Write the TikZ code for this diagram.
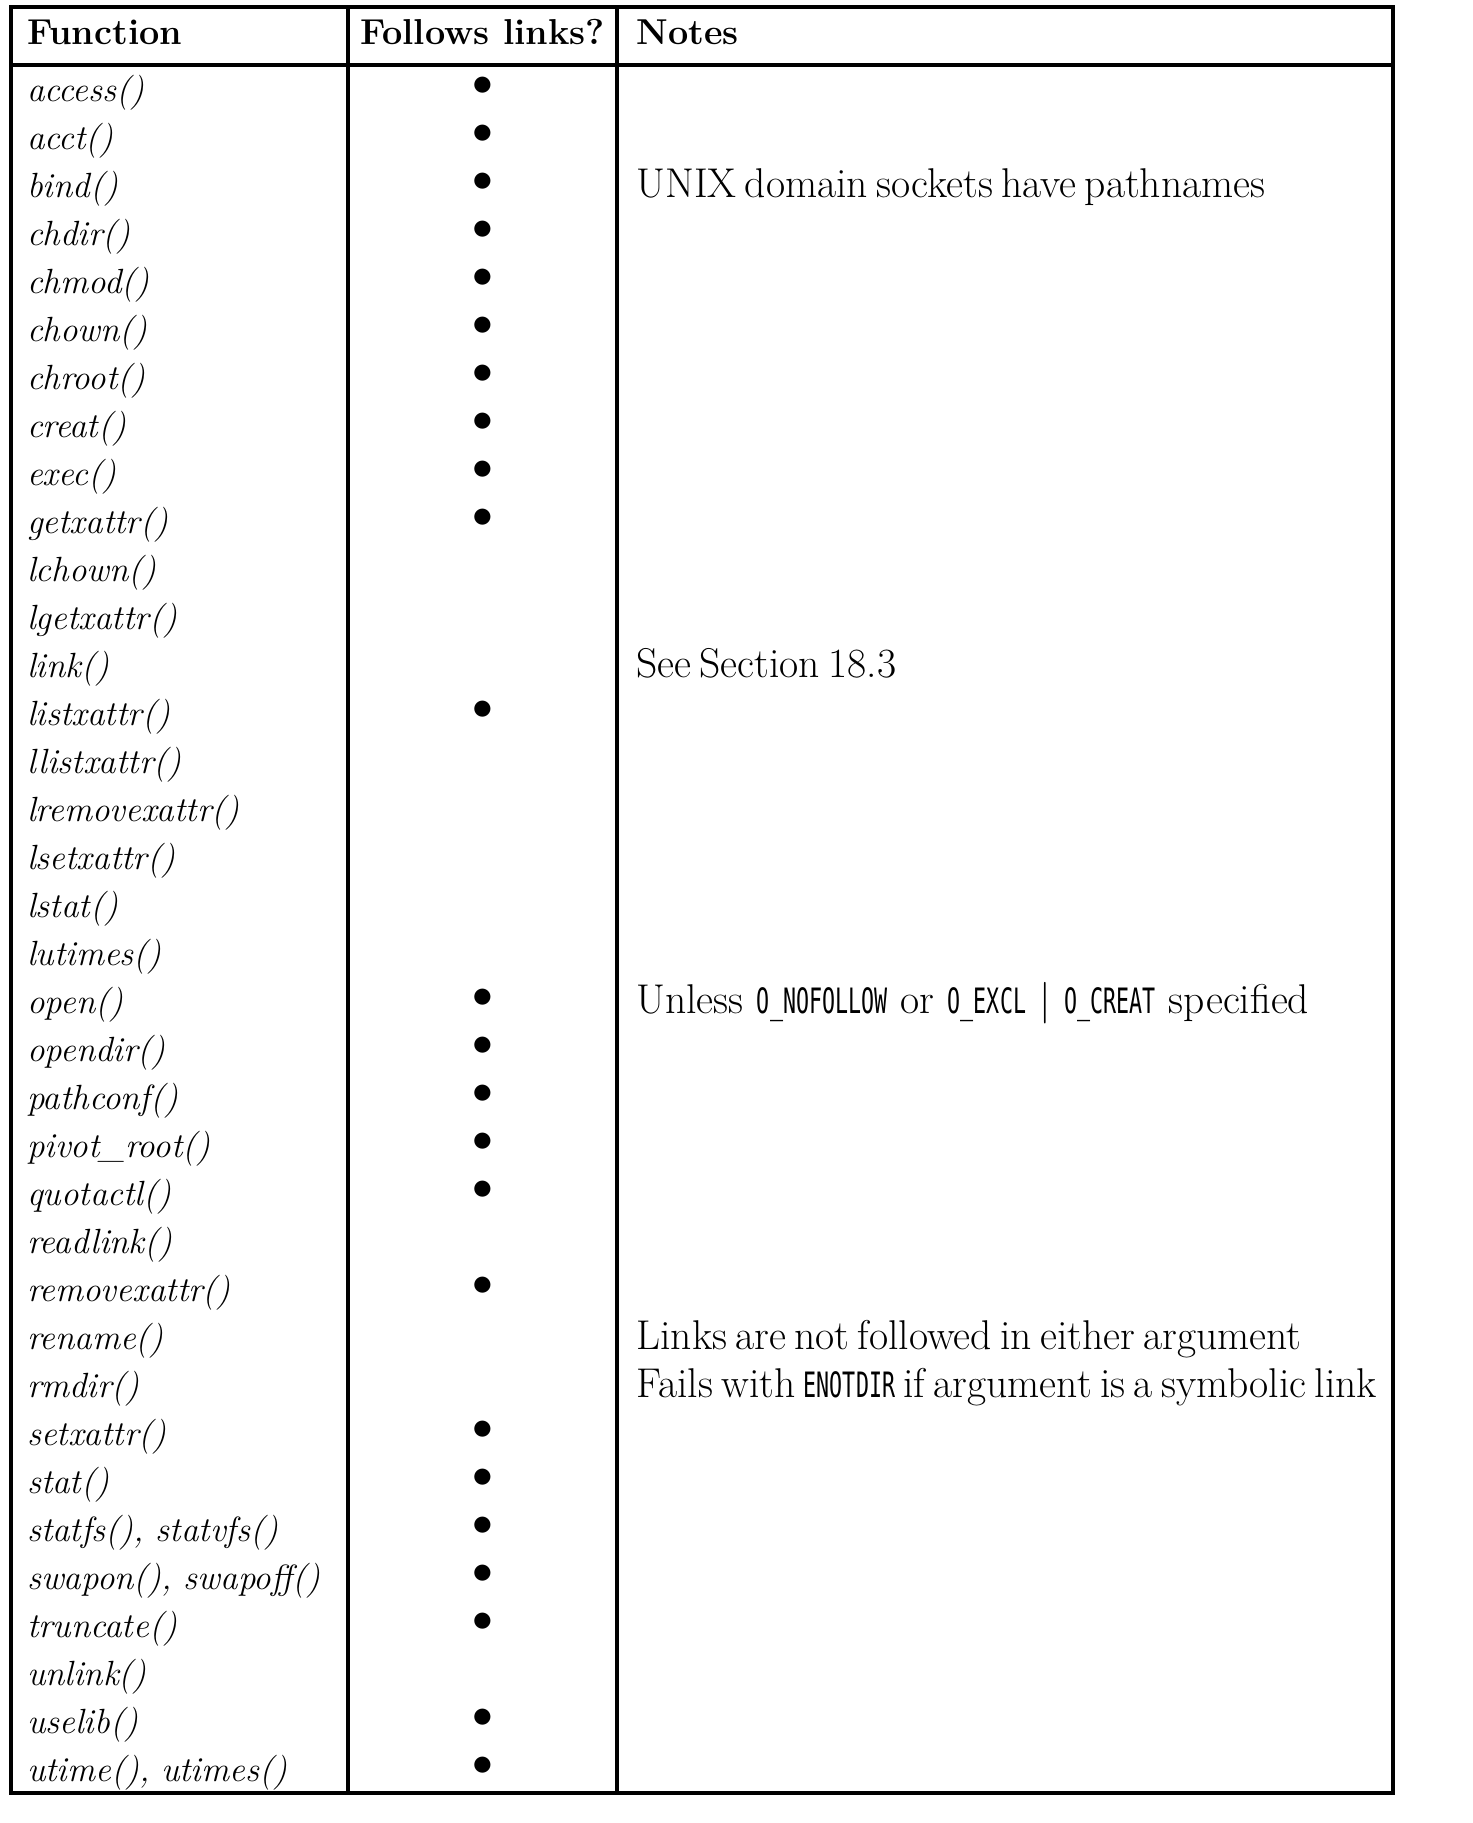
\documentclass[tikz,border=0pt]{standalone}
\usepackage{fontspec}
\usepackage{tikz}
\newfontfamily\codefont{DejaVu Sans Mono}[FakeStretch=0.62,Scale=0.84]
\newcommand{\constname}[1]{{\codefont #1}}

\begin{document}
\begin{tikzpicture}[x=0.5pt, y=-0.5pt, node distance=24pt,
  rule/.style={line width=1.7pt},
  fn/.style={inner sep=0pt, text width=160pt, align=left, execute at begin node=\strut, font=\fontsize{17.5}{24}\selectfont\itshape},
  head/.style={inner sep=0pt, anchor=base, font=\fontsize{18}{24}\selectfont\bfseries},
  note/.style={inner sep=0pt, anchor=base west, font=\fontsize{20.8}{24}\selectfont, execute at begin node={\spaceskip=0.2em plus 0.1em minus 0.05em}},
  widenote/.style={note, execute at begin node={\spaceskip=0.32em}},
  dot/.style={inner sep=0pt, anchor=base, font=\fontsize{20}{24}\selectfont}]
\useasboundingbox (0,0) rectangle (1472,1823);

\draw [rule] (11,7) rectangle (1393,1793);
\draw [rule] (11,65) -- (1393,65);
\draw [rule] (348,7) -- (348,1793);
\draw [rule] (617,7) -- (617,1793);

\node [head, anchor=base west] (hfunction) at (27,45) {Function};
\node [head] (hfollows) at (482.5,45) {Follows links?};
\node [head, anchor=base west] (hnotes) at (636,45) {Notes};

\node [fn] (access) at (187,91.5) {access()};
\node [fn, below of=access] (acct) {acct()};
\node [fn, below of=acct] (bind) {bind()};
\node [fn, below of=bind] (chdir) {chdir()};
\node [fn, below of=chdir] (chmod) {chmod()};
\node [fn, below of=chmod] (chown) {chown()};
\node [fn, below of=chown] (chroot) {chroot()};
\node [fn, below of=chroot] (creat) {creat()};
\node [fn, below of=creat] (exec) {exec()};
\node [fn, below of=exec] (getxattr) {getxattr()};
\node [fn, below of=getxattr] (lchown) {lchown()};
\node [fn, below of=lchown] (lgetxattr) {lgetxattr()};
\node [fn, below of=lgetxattr] (link) {link()};
\node [fn, below of=link] (listxattr) {listxattr()};
\node [fn, below of=listxattr] (llistxattr) {llistxattr()};
\node [fn, below of=llistxattr] (lremovexattr) {lremovexattr()};
\node [fn, below of=lremovexattr] (lsetxattr) {lsetxattr()};
\node [fn, below of=lsetxattr] (lstat) {lstat()};
\node [fn, below of=lstat] (lutimes) {lutimes()};
\node [fn, below of=lutimes] (open) {open()};
\node [fn, below of=open] (opendir) {opendir()};
\node [fn, below of=opendir] (pathconf) {pathconf()};
\node [fn, below of=pathconf] (pivotroot) {pivot\_root()};
\node [fn, below of=pivotroot] (quotactl) {quotactl()};
\node [fn, below of=quotactl] (readlink) {readlink()};
\node [fn, below of=readlink] (removexattr) {removexattr()};
\node [fn, below of=removexattr] (rename) {rename()};
\node [fn, below of=rename] (rmdir) {rmdir()};
\node [fn, below of=rmdir] (setxattr) {setxattr()};
\node [fn, below of=setxattr] (stat) {stat()};
\node [fn, below of=stat] (statfs) {statfs(), statvfs()};
\node [fn, below of=statfs] (swapon) {swapon(), swapoff()};
\node [fn, below of=swapon] (truncate) {truncate()};
\node [fn, below of=truncate] (unlink) {unlink()};
\node [fn, below of=unlink] (uselib) {uselib()};
\node [fn, below of=uselib] (utime) {utime(), utimes()};

% dots in the middle column
\node [dot] (b-access) at (482.5,0 |- access.base) {\raisebox{3pt}{$\bullet$}};
\node [dot] (b-acct) at (482.5,0 |- acct.base) {\raisebox{3pt}{$\bullet$}};
\node [dot] (b-bind) at (482.5,0 |- bind.base) {\raisebox{3pt}{$\bullet$}};
\node [dot] (b-chdir) at (482.5,0 |- chdir.base) {\raisebox{3pt}{$\bullet$}};
\node [dot] (b-chmod) at (482.5,0 |- chmod.base) {\raisebox{3pt}{$\bullet$}};
\node [dot] (b-chown) at (482.5,0 |- chown.base) {\raisebox{3pt}{$\bullet$}};
\node [dot] (b-chroot) at (482.5,0 |- chroot.base) {\raisebox{3pt}{$\bullet$}};
\node [dot] (b-creat) at (482.5,0 |- creat.base) {\raisebox{3pt}{$\bullet$}};
\node [dot] (b-exec) at (482.5,0 |- exec.base) {\raisebox{3pt}{$\bullet$}};
\node [dot] (b-getxattr) at (482.5,0 |- getxattr.base) {\raisebox{3pt}{$\bullet$}};
\node [dot] (b-listxattr) at (482.5,0 |- listxattr.base) {\raisebox{3pt}{$\bullet$}};
\node [dot] (b-open) at (482.5,0 |- open.base) {\raisebox{3pt}{$\bullet$}};
\node [dot] (b-opendir) at (482.5,0 |- opendir.base) {\raisebox{3pt}{$\bullet$}};
\node [dot] (b-pathconf) at (482.5,0 |- pathconf.base) {\raisebox{3pt}{$\bullet$}};
\node [dot] (b-pivotroot) at (482.5,0 |- pivotroot.base) {\raisebox{3pt}{$\bullet$}};
\node [dot] (b-quotactl) at (482.5,0 |- quotactl.base) {\raisebox{3pt}{$\bullet$}};
\node [dot] (b-removexattr) at (482.5,0 |- removexattr.base) {\raisebox{3pt}{$\bullet$}};
\node [dot] (b-setxattr) at (482.5,0 |- setxattr.base) {\raisebox{3pt}{$\bullet$}};
\node [dot] (b-stat) at (482.5,0 |- stat.base) {\raisebox{3pt}{$\bullet$}};
\node [dot] (b-statfs) at (482.5,0 |- statfs.base) {\raisebox{3pt}{$\bullet$}};
\node [dot] (b-swapon) at (482.5,0 |- swapon.base) {\raisebox{3pt}{$\bullet$}};
\node [dot] (b-truncate) at (482.5,0 |- truncate.base) {\raisebox{3pt}{$\bullet$}};
\node [dot] (b-uselib) at (482.5,0 |- uselib.base) {\raisebox{3pt}{$\bullet$}};
\node [dot] (b-utime) at (482.5,0 |- utime.base) {\raisebox{3pt}{$\bullet$}};

% notes
\node [note] (n-bind) at (636,0 |- bind.base) {UNIX domain sockets have pathnames};
\node [note] (n-link) at (636,0 |- link.base) {See Section 18.3};
\node [widenote] (n-open) at (636,0 |- open.base) {Unless \constname{O\_NOFOLLOW} or \constname{O\_EXCL} $|$ \constname{O\_CREAT} specified};
\node [note] (n-rename) at (636,0 |- rename.base) {Links are not followed in either argument};
\node [note] (n-rmdir) at (636,0 |- rmdir.base) {Fails with \constname{ENOTDIR} if argument is a symbolic link};

\end{tikzpicture}
\end{document}
